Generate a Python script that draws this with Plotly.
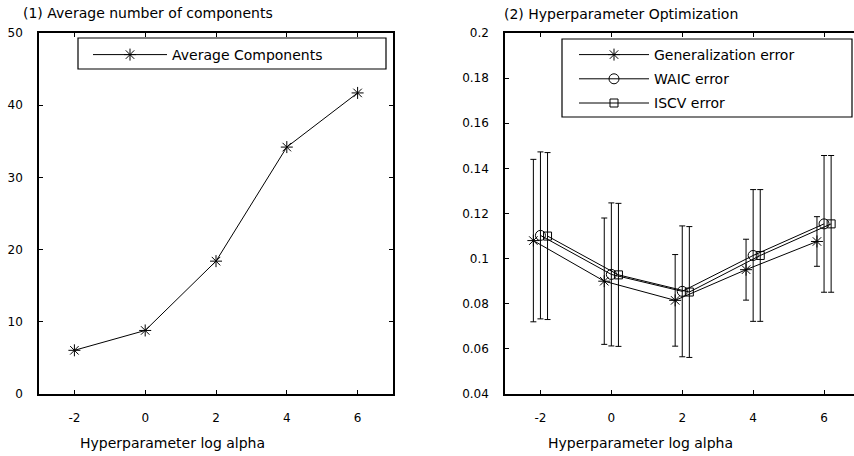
import plotly.graph_objects as go

W, H = 854, 456
FONT = "DejaVu Sans"

# ---- data ----
log_alpha = [-2, 0, 2, 4, 6]
avg_components = [6.05, 8.8, 18.4, 34.2, 41.7]

gen_err = [0.108, 0.090, 0.0815, 0.0951, 0.1076]
gen_sd = [0.036, 0.028, 0.0203, 0.0135, 0.011]
waic_err = [0.1103, 0.0930, 0.0855, 0.1014, 0.1154]
waic_sd = [0.0370, 0.0317, 0.0290, 0.0292, 0.0303]
iscv_err = [0.1100, 0.0928, 0.0852, 0.1014, 0.1154]
iscv_sd = [0.0370, 0.0317, 0.0290, 0.0292, 0.0303]

left_yticks = [0, 10, 20, 30, 40, 50]
right_yticks = [0.04, 0.06, 0.08, 0.1, 0.12, 0.14, 0.16, 0.18, 0.2]
right_yticktext = ["0.04", "0.06", "0.08", "0.1", "0.12", "0.14", "0.16", "0.18", "0.2"]
xticks = [-2, 0, 2, 4, 6]
xticktext = ["-2", "0", "2", "4", "6"]

shift = 0.2

def px_x(p):
    return p / W

def px_y(p):
    return 1 - p / H

fig = go.Figure()

fig.add_trace(go.Scatter(
    x=log_alpha, y=avg_components, mode="lines+markers", name="Average Components",
    line=dict(color="black", width=1),
    marker=dict(symbol="asterisk-open", size=10, color="black", line=dict(color="black", width=1)),
    xaxis="x", yaxis="y", legend="legend",
))

err_common = dict(type="data", color="black", thickness=1, width=3, visible=True)

fig.add_trace(go.Scatter(
    x=[a - shift for a in log_alpha], y=gen_err, mode="lines+markers", name="Generalization error",
    error_y=dict(array=gen_sd, **err_common),
    line=dict(color="black", width=1),
    marker=dict(symbol="asterisk-open", size=10, color="black", line=dict(color="black", width=1)),
    xaxis="x2", yaxis="y2", legend="legend2", legendgroup="g1",
))
fig.add_trace(go.Scatter(
    x=log_alpha, y=waic_err, mode="lines+markers", name="WAIC error",
    error_y=dict(array=waic_sd, **err_common),
    line=dict(color="black", width=1),
    marker=dict(symbol="circle-open", size=10, color="black", line=dict(color="black", width=1)),
    xaxis="x2", yaxis="y2", legend="legend2", legendgroup="g2",
))
fig.add_trace(go.Scatter(
    x=[a + shift for a in log_alpha], y=iscv_err, mode="lines+markers", name="ISCV error",
    error_y=dict(array=iscv_sd, **err_common),
    line=dict(color="black", width=1),
    marker=dict(symbol="square-open", size=8, color="black", line=dict(color="black", width=1)),
    xaxis="x2", yaxis="y2", legend="legend2", legendgroup="g3",
))

ydom = [px_y(394), px_y(33)]
axis_common = dict(
    showgrid=False, zeroline=False, showline=True, linecolor="black", linewidth=1.5,
    ticks="inside", ticklen=4, tickcolor="black", tickwidth=1, automargin=False,
    tickfont=dict(family=FONT, size=12, color="black"),
)

leg_common = dict(xanchor="left", yanchor="top", bgcolor="rgba(0,0,0,0)", borderwidth=0,
                  font=dict(family=FONT, size=14, color="black"))

fig.update_layout(
    template="none",
    width=W, height=H,
    margin=dict(l=0, r=0, t=0, b=0, autoexpand=False),
    paper_bgcolor="white", plot_bgcolor="white",
    font=dict(family=FONT, color="black"),
    xaxis=dict(domain=[px_x(39), px_x(393)], range=[-3, 7], tickvals=xticks, ticktext=xticktext,
               mirror="ticks", anchor="y", ticklabelstandoff=12, **axis_common),
    yaxis=dict(domain=ydom, range=[0, 50], tickvals=left_yticks,
               mirror="ticks", anchor="x", ticklabelstandoff=12, **axis_common),
    xaxis2=dict(domain=[px_x(505), 1], range=[-3, 6.845], tickvals=xticks, ticktext=xticktext,
                mirror="ticks", anchor="y2", ticklabelstandoff=12, **axis_common),
    yaxis2=dict(domain=ydom, range=[0.04, 0.2], tickvals=right_yticks, ticktext=right_yticktext,
                mirror=False, anchor="x2", ticklabelstandoff=12, **axis_common),
    legend=dict(x=px_x(88), y=px_y(39), itemwidth=74, **leg_common),
    legend2=dict(x=px_x(574), y=px_y(39), itemwidth=70, tracegroupgap=3, **leg_common),
    showlegend=True,
    shapes=[
        dict(type="rect", xref="paper", yref="paper", x0=px_x(78), x1=px_x(386), y0=px_y(69), y1=px_y(38),
             line=dict(color="black", width=1.2), fillcolor="white", layer="below"),
        dict(type="rect", xref="paper", yref="paper", x0=px_x(562), x1=px_x(852), y0=px_y(117), y1=px_y(39),
             line=dict(color="black", width=1.2), fillcolor="white", layer="below"),
    ],
)

annots = [
    dict(text="(1) Average number of components", x=px_x(21), y=px_y(13), xanchor="left", yanchor="middle"),
    dict(text="(2) Hyperparameter Optimization", x=px_x(502), y=px_y(14), xanchor="left", yanchor="middle"),
    dict(text="Hyperparameter log alpha", x=px_x(172), y=px_y(443), xanchor="center", yanchor="middle"),
    dict(text="Hyperparameter log alpha", x=px_x(640), y=px_y(443), xanchor="center", yanchor="middle"),
]
for a in annots:
    fig.add_annotation(xref="paper", yref="paper", showarrow=False,
                       font=dict(family=FONT, size=14, color="black"), **a)

fig.write_html("out.html")
